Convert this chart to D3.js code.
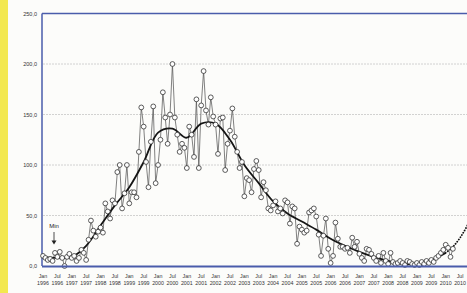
<!DOCTYPE html>
<html>
<head>
<meta charset="utf-8">
<script src="https://cdn.jsdelivr.net/npm/d3@7"></script>
<style>
  body { margin: 0; background: #fcfcfa; }
  svg { display: block; font-family: "Liberation Sans", Arial, sans-serif; }
</style>
</head>
<body>
<div id="container"></div>
<script>
// monthly values, index 0 = Jan 1996
var values = [
  10, 8, 6, 7, 5, 13, 9, 14, 8, 0, 9, 12,
  8, 10, 5, 8, 16, 13, 6, 26, 45, 35, 29, 34,
  38, 33, 62, 54, 47, 65, 62, 93, 100, 57, 72, 100,
  62, 73, 73, 68, 113, 157, 138, 103, 78, 123, 158, 82,
  100, 125, 172, 147, 121, 150, 200, 147, 130, 113, 121, 117,
  97, 138, 130, 108, 165, 97, 159, 193, 154, 140, 167, 148,
  140, 111, 146, 147, 95, 121, 134, 156, 128, 113, 97, 103,
  69, 87, 85, 73, 96, 104, 95, 68, 83, 75, 57, 55,
  60, 64, 54, 57, 52, 65, 63, 42, 59, 57, 22, 39,
  36, 33, 35, 53, 55, 57, 49, 31, 10, 30, 47, 17,
  3, 10, 43, 27, 19, 19, 17, 18, 13, 28, 19, 24,
  12, 8, 5, 17, 16, 12, 8, 5, 10, 3, 13, 5,
  2, 13, 4, 2, 3, 5, 3, 1, 5, 4, 2, 1,
  3, 1, 4, 2, 5, 3, 6, 4, 8, 10, 13, 16,
  21, 18, 9, 17
];

// smoothed trend, read every six months
var trendMonths = [0, 6, 12, 18, 24, 30, 36, 42, 48, 54, 60, 66, 72, 78, 84,
  90, 96, 102, 108, 114, 120, 126, 132, 138, 144, 150, 156, 162, 168];
var trendValues = [9, 8, 9, 20, 40, 60, 78, 103, 132, 136, 127, 141, 141, 125, 100,
  82, 64, 52, 44, 36, 27, 20, 14, 9, 5, 2, 2, 6, 13];

// dotted projection
var projMonths = [168, 171, 174, 177, 180];
var projValues = [13, 19, 28, 40, 55];

var yTicks = [0, 50, 100, 150, 200, 250];
var periods = ["Jan", "Jul"];
var years = [1996, 1997, 1998, 1999, 2000, 2001, 2002, 2003, 2004, 2005, 2006, 2007, 2008, 2009, 2010];

var width = 467, height = 293;
var blue = "#4a5cab";

var svg = d3.select("#container").append("svg")
  .attr("width", width)
  .attr("height", height);

// yellow strip on the left of the scan
svg.append("rect").attr("x", 0).attr("y", 0).attr("width", 8).attr("height", height)
  .attr("fill", "#f3e84f");

var x = d3.scaleLinear().domain([0, 168]).range([43, 445.7]);
var y = d3.scaleLinear().domain([0, 250]).range([266, 13.5]);

// gridlines
svg.selectAll(".grid").data(yTicks.filter(function(d){ return d > 0 && d < 250; }))
  .enter().append("line")
  .attr("x1", 43).attr("x2", width)
  .attr("y1", function(d){ return y(d); }).attr("y2", function(d){ return y(d); })
  .attr("stroke", "#c6c6c6").attr("stroke-width", 0.8)
  .attr("stroke-dasharray", "2,1");

// frame
svg.append("line").attr("x1", 42).attr("x2", width).attr("y1", y(250)).attr("y2", y(250))
  .attr("stroke", blue).attr("stroke-width", 1.5);
svg.append("line").attr("x1", 42).attr("x2", 42).attr("y1", y(250)).attr("y2", y(0))
  .attr("stroke", blue).attr("stroke-width", 1.5);

// y labels
svg.selectAll(".ylab").data(yTicks).enter().append("text")
  .attr("x", 37).attr("y", function(d){ return y(d) + 2; })
  .attr("text-anchor", "end")
  .attr("font-size", 5.5).attr("fill", "#333")
  .text(function(d){ return d3.format(".1f")(d).replace(".", ","); });

// x tick labels
var xTicks = [];
years.forEach(function(yr){
  periods.forEach(function(p, i){ xTicks.push({m: (yr - 1996) * 12 + i * 6, p: p, yr: yr}); });
});
var xl = svg.selectAll(".xlab").data(xTicks).enter().append("text")
  .attr("text-anchor", "middle")
  .attr("font-size", 5.3).attr("fill", "#333");
xl.append("tspan").attr("x", function(d){ return x(d.m); }).attr("y", 278).text(function(d){ return d.p; });
xl.append("tspan").attr("x", function(d){ return x(d.m); }).attr("y", 285).text(function(d){ return d.yr; });

// data line and markers
var line = d3.line().x(function(d, i){ return x(i); }).y(function(d){ return y(d); });
svg.append("path").datum(values).attr("d", line)
  .attr("fill", "none").attr("stroke", "#4a4a4a").attr("stroke-width", 0.7);

// trend
var trend = d3.line().curve(d3.curveCatmullRom)
  .x(function(d){ return x(d[0]); }).y(function(d){ return y(d[1]); });
svg.append("path").datum(d3.zip(trendMonths, trendValues)).attr("d", trend)
  .attr("fill", "none").attr("stroke", "#151515").attr("stroke-width", 1.8);

svg.append("path").datum(d3.zip(projMonths, projValues)).attr("d", trend)
  .attr("fill", "none").attr("stroke", "#111").attr("stroke-width", 1.8)
  .attr("stroke-linecap", "round").attr("stroke-dasharray", "0.1,2.6");

svg.selectAll(".pt").data(values).enter().append("circle")
  .attr("cx", function(d, i){ return x(i); }).attr("cy", function(d){ return y(d); })
  .attr("r", 2.4).attr("fill", "#fff").attr("stroke", "#333").attr("stroke-width", 0.8);

// bottom axis
svg.append("line").attr("x1", 42).attr("x2", width).attr("y1", y(0) + 0.5).attr("y2", y(0) + 0.5)
  .attr("stroke", blue).attr("stroke-width", 2);

// Min annotation
svg.append("text").attr("x", 54).attr("y", 228).attr("text-anchor", "middle")
  .attr("font-size", 6).attr("fill", "#222").text("Min");
svg.append("line").attr("x1", 54).attr("x2", 54).attr("y1", 232).attr("y2", 241)
  .attr("stroke", "#222").attr("stroke-width", 0.8);
svg.append("path").attr("d", "M51.5,240.5 L56.5,240.5 L54,244.5 Z").attr("fill", "#222");
</script>
</body>
</html>
